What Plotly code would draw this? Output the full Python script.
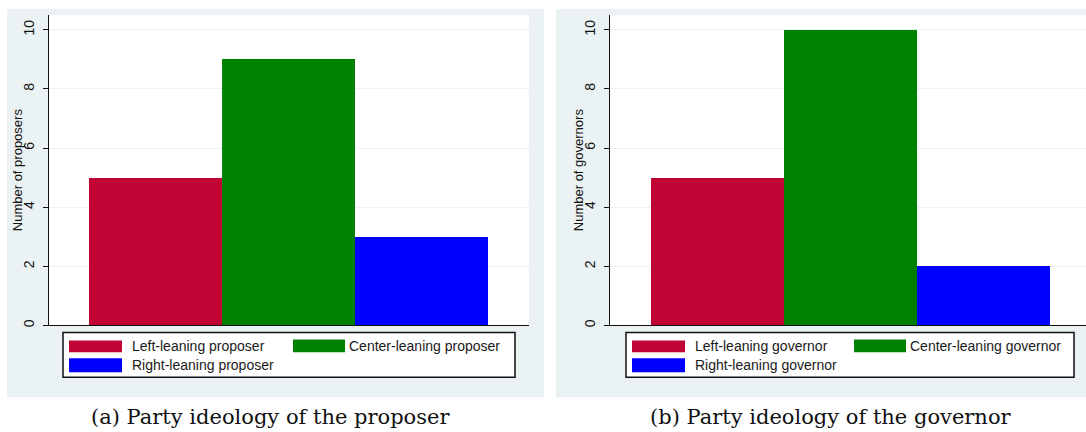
import plotly.graph_objects as go

# Counts by party ideology
labels_a = ["Left-leaning proposer", "Center-leaning proposer", "Right-leaning proposer"]
counts_a = [5, 9, 3]
labels_b = ["Left-leaning governor", "Center-leaning governor", "Right-leaning governor"]
counts_b = [5, 10, 2]
bar_colors = ["#C00535", "#008000", "#0000FF"]
y_ticks = [0, 2, 4, 6, 8, 10]
y_titles = ["Number of proposers", "Number of governors"]
captions = ["(a) Party ideology of the proposer", "(b) Party ideology of the governor"]

W, H = 1086, 432
BG = "#EAF2F3"
SANS = "Liberation Sans, Arial, sans-serif"
SERIF = "DejaVu Serif, serif"


def px_x(x):
    return x / W


def px_y(y):
    return 1 - y / H


fig = go.Figure()

panels = [
    dict(labels=labels_a, counts=counts_a, xa="x", ya="y",
         dom=[49, 529], rng=[0.2, 3.808], gray=[7, 544],
         legend_box=[63, 515], col2=293, ytitle_x=17, cap_x=270),
    dict(labels=labels_b, counts=counts_b, xa="x2", ya="y2",
         dom=[610, 1086], rng=[0.192, 3.77], gray=[556, 1100],
         legend_box=[626, 1074], col2=854, ytitle_x=578, cap_x=831),
]

plot_top, plot_bottom = 15, 327
shapes = []
annotations = []

for k, p in enumerate(panels):
    # bars
    for i, (lab, val) in enumerate(zip(p["labels"], p["counts"])):
        fig.add_trace(go.Bar(
            x=[i + 1], y=[val], width=1, name=lab,
            marker=dict(color=bar_colors[i], line=dict(width=0)),
            xaxis=p["xa"], yaxis=p["ya"], showlegend=False,
            hoverinfo="skip",
        ))

    # panel background
    shapes.append(dict(type="rect", xref="paper", yref="paper", layer="below",
                       x0=px_x(p["gray"][0]), x1=px_x(p["gray"][1]),
                       y0=px_y(399), y1=px_y(9),
                       fillcolor=BG, line=dict(width=0)))
    shapes.append(dict(type="rect", xref="paper", yref="paper", layer="below",
                       x0=px_x(p["dom"][0]), x1=px_x(min(p["dom"][1], W)),
                       y0=px_y(plot_bottom), y1=px_y(plot_top),
                       fillcolor="white", line=dict(width=0)))

    # legend box
    lx0, lx1 = p["legend_box"]
    shapes.append(dict(type="rect", xref="paper", yref="paper",
                       x0=px_x(lx0), x1=px_x(lx1), y0=px_y(379), y1=px_y(334),
                       fillcolor="white", line=dict(color="#111111", width=1.5)))
    # legend entries: (column x start, row top, row bottom, text gap)
    entries = [
        (lx0 + 6, 342, 354, 8),
        (p["col2"], 341, 354, 2),
        (lx0 + 6, 360, 374, 8),
    ]
    for i, (sx, ty, by, gap) in enumerate(entries):
        sw = 53 if i != 1 else 52
        shapes.append(dict(type="rect", xref="paper", yref="paper",
                           x0=px_x(sx), x1=px_x(sx + sw), y0=px_y(by), y1=px_y(ty),
                           fillcolor=bar_colors[i], line=dict(width=0)))
        annotations.append(dict(xref="paper", yref="paper",
                                x=px_x(sx + sw + gap), y=px_y((ty + by) / 2),
                                xanchor="left", yanchor="middle", showarrow=False,
                                text=p["labels"][i],
                                font=dict(family=SANS, size=14, color="#1a1a1a")))

    # y-axis title
    annotations.append(dict(xref="paper", yref="paper",
                            x=px_x(p["ytitle_x"]), y=px_y((plot_top + plot_bottom) / 2),
                            xanchor="center", yanchor="middle", showarrow=False,
                            textangle=-90, text=y_titles[k],
                            font=dict(family=SANS, size=13, color="#111111")))

    # caption
    annotations.append(dict(xref="paper", yref="paper",
                            x=px_x(p["cap_x"]), y=px_y(419),
                            xanchor="center", yanchor="middle", showarrow=False,
                            text=captions[k],
                            font=dict(family=SERIF, size=21, color="#111111")))

x_common = dict(showline=True, linecolor="#111111", linewidth=1.3,
                showticklabels=False, ticks="", showgrid=False, zeroline=False,
                fixedrange=True)
y_common = dict(range=[0, 10.5], tickvals=y_ticks, ticktext=[str(t) for t in y_ticks],
                showline=True, linecolor="#111111", linewidth=1.3,
                ticks="outside", ticklen=5, tickwidth=1, tickcolor="#111111",
                tickangle=-90, ticklabelstandoff=3,
                showgrid=True, gridcolor=BG, gridwidth=1,
                zeroline=False, tickfont=dict(family=SANS, size=14, color="#111111"),
                fixedrange=True)

fig.update_layout(
    width=W, height=H,
    margin=dict(l=0, r=0, t=0, b=0),
    paper_bgcolor="white", plot_bgcolor="white",
    bargap=0, barmode="overlay",
    showlegend=False,
    xaxis=dict(domain=[px_x(49), px_x(529)], range=panels[0]["rng"], anchor="y", **x_common),
    yaxis=dict(domain=[px_y(plot_bottom), px_y(plot_top)], anchor="x", **y_common),
    xaxis2=dict(domain=[px_x(610), 1.0], range=panels[1]["rng"], anchor="y2", **x_common),
    yaxis2=dict(domain=[px_y(plot_bottom), px_y(plot_top)], anchor="x2", **y_common),
    shapes=shapes,
    annotations=annotations,
)

fig.write_html("out.html", config={"displayModeBar": False})
